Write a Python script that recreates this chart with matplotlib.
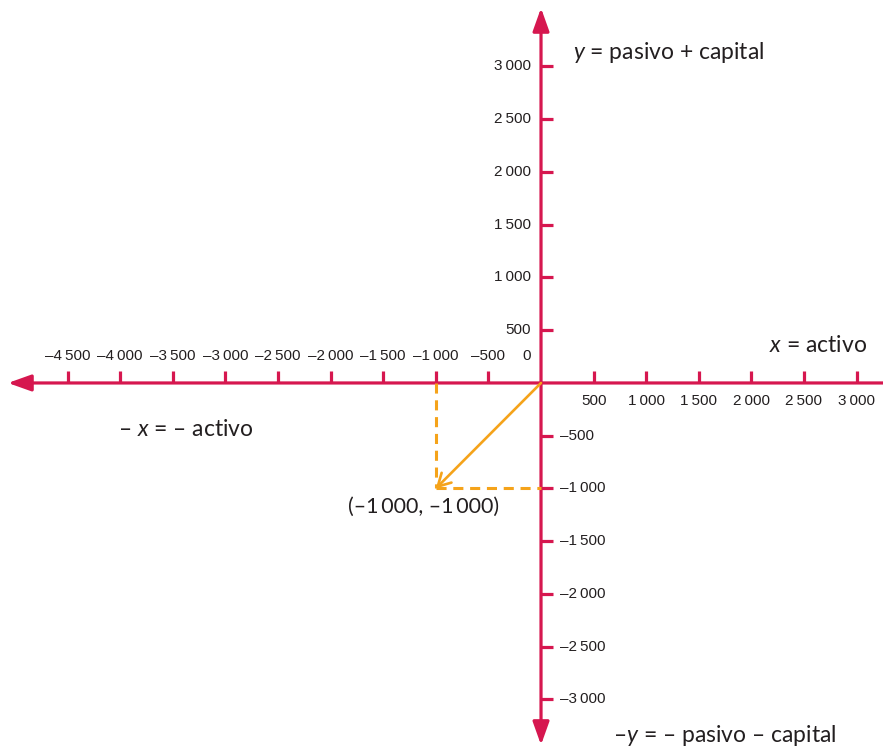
import numpy as np
import matplotlib
matplotlib.use('Agg')
import matplotlib.pyplot as plt
from matplotlib.patches import FancyArrowPatch

# tick values
x_ticks_neg = [-4500, -4000, -3500, -3000, -2500, -2000, -1500, -1000, -500]
x_ticks_pos = [500, 1000, 1500, 2000, 2500, 3000]
y_ticks_pos = [500, 1000, 1500, 2000, 2500, 3000]
y_ticks_neg = [-500, -1000, -1500, -2000, -2500, -3000]

# the point
point_x = -1000
point_y = -1000
point_label = "(\u20131\u2009000, \u20131\u2009000)"

axis_color = '#d6174f'
vec_color = '#f5a31a'
text_color = '#231f20'

plt.rcParams['mathtext.fontset'] = 'custom'
plt.rcParams['mathtext.rm'] = 'Lato'
plt.rcParams['mathtext.it'] = 'Lato:italic'

TICK_FONT = ['Liberation Sans', 'DejaVu Sans']
LABEL_FONT = ['Lato', 'DejaVu Sans']


def fmt(v):
    s = str(abs(v))
    if len(s) > 3:
        s = s[:-3] + '\u2009' + s[-3:]
    return ('\u2013' if v < 0 else '') + s


fig = plt.figure(figsize=(8.83, 7.48), dpi=100)
ax = fig.add_axes([0, 0, 1, 1])
ax.set_xlim(-5143, 3251)
ax.set_ylim(-3460, 3630)
ax.axis('off')

# axes with arrows
ax.add_patch(FancyArrowPatch((3300, 0), (-5067, 0), arrowstyle='-|>,head_length=14,head_width=5',
                             mutation_scale=1, color=axis_color, lw=2.3, shrinkA=0, shrinkB=0))
ax.add_patch(FancyArrowPatch((0, -3431), (0, 3554), arrowstyle='<|-|>,head_length=14,head_width=5',
                             mutation_scale=1, color=axis_color, lw=2.3, shrinkA=0, shrinkB=0))

# tick marks
tick_len = 115
ax.vlines(x_ticks_neg + x_ticks_pos, 0, tick_len, color=axis_color, lw=2.3)
ax.hlines(y_ticks_pos + y_ticks_neg, 0, tick_len, color=axis_color, lw=2.3)

tk = dict(fontsize=11, color=text_color, family=TICK_FONT, textcoords='offset points')
for v in x_ticks_neg:
    ax.annotate(fmt(v), (v, 0), xytext=(0, 19.5), ha='center', va='center', **tk)
ax.annotate('0', (0, 0), xytext=(-10, 19.5), ha='center', va='center', **tk)
for v in x_ticks_pos:
    ax.annotate(fmt(v), (v, 0), xytext=(0, -13), ha='center', va='center', **tk)
for v in y_ticks_pos:
    ax.annotate(fmt(v), (0, v), xytext=(-7, 0), ha='right', va='center', **tk)
for v in y_ticks_neg:
    ax.annotate(fmt(v), (0, v), xytext=(13.5, 0), ha='left', va='center', **tk)

# dashed projections
ax.plot([point_x, point_x], [0, point_y], color=vec_color, lw=2.2, dashes=(3.3, 2.2))
ax.plot([point_x, 0], [point_y, point_y], color=vec_color, lw=2.2, dashes=(3.3, 2.2))

# vector
ax.add_patch(FancyArrowPatch((0, 0), (point_x, point_y), arrowstyle='->,head_length=9,head_width=5',
                             mutation_scale=1, color=vec_color, lw=1.9, shrinkA=0, shrinkB=0))

lb = dict(fontsize=16.5, color=text_color, family=LABEL_FONT, va='center')
ax.text(304, 3128, r'$y$ = pasivo + capital', ha='left', **lb)
ax.text(3099, 351, r'$x$ = activo', ha='right', **lb)
ax.text(-4021, -445, '\u2013 ' + r'$x$' + ' = \u2013 activo', ha='left', **lb)
ax.text(684, -3346, '\u2013' + r'$y$' + ' = \u2013 pasivo \u2013 capital', ha='left', **lb)
ax.text(-1112, -1175, point_label, ha='center', va='center', fontsize=15.5, color=text_color,
        family=LABEL_FONT)

fig.savefig('out.png', dpi=100)
plt.close(fig)
